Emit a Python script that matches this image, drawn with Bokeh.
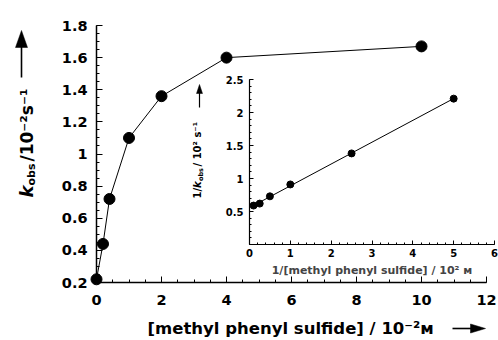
import numpy as np
from bokeh.plotting import figure
from bokeh.models import FixedTicker, NumeralTickFormatter
from bokeh.core.properties import value
from bokeh.embed import file_html
from bokeh.resources import INLINE

# ---------------- data ----------------
# main plot: k_obs vs [methyl phenyl sulfide]
conc = [0, 0.2, 0.4, 1, 2, 4, 10]                 # / 10^-2 M
kobs = [0.22, 0.44, 0.72, 1.10, 1.36, 1.60, 1.67]  # / 10^-2 s^-1
# inset: 1/k_obs vs 1/[methyl phenyl sulfide]
inv_conc = [0.1, 0.25, 0.5, 1, 2.5, 5]             # / 10^2 M^-1
inv_kobs = [0.59, 0.62, 0.73, 0.91, 1.38, 2.21]    # / 10^2 s

main_x_ticks = [0, 2, 4, 6, 8, 10, 12]
main_y_ticks = [0.2, 0.4, 0.6, 0.8, 1, 1.2, 1.4, 1.6, 1.8]
inset_x_ticks = [0, 1, 2, 3, 4, 5, 6]
inset_y_ticks = [0.5, 1, 1.5, 2, 2.5]

main_xlabel = "[methyl phenyl sulfide] / 10\u207b\u00b2\u1d0d"
inset_xlabel = "1/[methyl phenyl sulfide] / 10\u00b2 \u1d0d"

FONT = "DejaVu Sans"
ang = np.pi / 2

# ---------------- main figure ----------------
W, H = 498, 340
ML, MR, MT, MB = 96, 12, 25, 58
XR = (0, 12)
YR = (0.2, 1.8)
p = figure(width=W, height=H, x_range=XR, y_range=YR,
           output_backend="svg", toolbar_location=None,
           min_border_left=ML, min_border_right=MR,
           min_border_top=MT, min_border_bottom=MB)
p.outline_line_color = None
p.grid.visible = False
p.styles = {"position": "absolute", "left": "0px", "top": "0px"}

FW, FH = W - ML - MR, H - MT - MB


def mx(px):
    return XR[0] + (px - ML) / FW * (XR[1] - XR[0])


def my(py):
    return YR[1] - (py - MT) / FH * (YR[1] - YR[0])


def style_axis(ax, size, tick_in, minor_in, width, standoff):
    ax.axis_line_width = width
    ax.major_tick_in = tick_in
    ax.major_tick_out = 0
    ax.minor_tick_in = minor_in
    ax.minor_tick_out = 0
    ax.major_tick_line_width = 1
    ax.minor_tick_line_width = 1
    ax.major_label_text_font = FONT
    ax.major_label_text_font_style = "bold"
    ax.major_label_text_font_size = size
    ax.major_label_text_color = "black"
    ax.major_label_standoff = standoff
    ax.formatter = NumeralTickFormatter(format="0.[0]")


def draw_arrow(fig, cx, cy, x0, y0, x1, y1, head_len, head_w, lw):
    """Arrow from (x0,y0) to tip (x1,y1), given in canvas pixels."""
    dx, dy = x1 - x0, y1 - y0
    L = (dx * dx + dy * dy) ** 0.5
    ux, uy = dx / L, dy / L
    bx, by = x1 - ux * head_len, y1 - uy * head_len
    nx, ny = -uy, ux
    fig.line([cx(x0), cx(bx + ux)], [cy(y0), cy(by + uy)],
             line_color="black", line_width=lw, level="overlay")
    hx = [x1, bx + nx * head_w / 2, bx - nx * head_w / 2]
    hy = [y1, by + ny * head_w / 2, by - ny * head_w / 2]
    fig.patch([cx(v) for v in hx], [cy(v) for v in hy],
              fill_color="black", line_color="black", line_width=0.5,
              level="overlay")


def put_text(fig, x, y, txt, size, style="bold", angle=0.0):
    fig.text(x=[x], y=[y], text=[txt], angle=angle,
             text_font=value(FONT), text_font_style=style,
             text_font_size=value(size), text_color="black",
             text_align="left", text_baseline="middle", level="overlay")


p.xaxis.ticker = FixedTicker(ticks=main_x_ticks,
                             minor_ticks=list(np.arange(0, 12.001, 0.5)))
p.yaxis.ticker = FixedTicker(ticks=main_y_ticks,
                             minor_ticks=list(np.arange(0.2, 1.8001, 0.05)))
style_axis(p.xaxis[0], "14.5px", 6, 3, 1.5, 12)
style_axis(p.yaxis[0], "14.5px", 6, 3, 1.5, 9)

p.line(conc, kobs, line_color="black", line_width=1, level="overlay")
p.scatter(conc, kobs, size=11, fill_color="black", line_color="black",
          level="overlay")

# main y label: k_obs / 10^-2 s^-1 (rotated), positions in canvas pixels
put_text(p, mx(26), my(197), "k", "18px", "bold italic", ang)
put_text(p, mx(30.5), my(185), "obs", "11px", "bold", ang)
put_text(p, mx(26), my(161), "/10\u207b\u00b2s\u207b\u00b9", "17px", "bold", ang)
draw_arrow(p, mx, my, 21, 77, 21, 30, 17, 12, 1.6)

# main x label
put_text(p, mx(147), my(328), main_xlabel, "16.5px", "bold")
draw_arrow(p, mx, my, 452, 328, 485, 328, 15, 9, 1.6)

# ---------------- inset figure ----------------
IL, IT, IW, IH = 190, 70, 308, 210
IML, IMR, IMT, IMB = 59, 4, 9, 36
IXR = (0, 6)
IYR = (0, 2.5)
q = figure(width=IW, height=IH, x_range=IXR, y_range=IYR,
           output_backend="svg", toolbar_location=None,
           min_border_left=IML, min_border_right=IMR,
           min_border_top=IMT, min_border_bottom=IMB)
q.outline_line_color = None
q.grid.visible = False
q.background_fill_color = None
q.border_fill_color = None
q.styles = {"position": "absolute", "left": f"{IL}px", "top": f"{IT}px"}

IFW, IFH = IW - IML - IMR, IH - IMT - IMB


def qx(px):
    return IXR[0] + (px - IL - IML) / IFW * (IXR[1] - IXR[0])


def qy(py):
    return IYR[1] - (py - IT - IMT) / IFH * (IYR[1] - IYR[0])


q.xaxis.ticker = FixedTicker(ticks=inset_x_ticks,
                             minor_ticks=list(np.arange(0, 6.001, 0.2)))
q.yaxis.ticker = FixedTicker(ticks=inset_y_ticks,
                             minor_ticks=list(np.arange(0, 2.5001, 0.1)))
style_axis(q.xaxis[0], "10px", 4, 2, 1.2, 4)
style_axis(q.yaxis[0], "10px", 4, 2, 1.2, 6)

q.xaxis.axis_label = inset_xlabel
q.xaxis.axis_label_text_font = FONT
q.xaxis.axis_label_text_font_style = "bold"
q.xaxis.axis_label_text_font_size = "11px"
q.xaxis.axis_label_standoff = 4

# least-squares line through the inset points
slope, icpt = np.polyfit(inv_conc, inv_kobs, 1)
fx = [min(inv_conc), max(inv_conc)]
fy = [slope * v + icpt for v in fx]
q.line(fx, fy, line_color="black", line_width=1, level="overlay")
q.scatter(inv_conc, inv_kobs, size=7, fill_color="black", line_color="black",
          level="overlay")

# inset y label: 1/k_obs / 10^2 s^-1 (rotated)
put_text(q, qx(196.5), qy(198), "1/", "10px", "bold", ang)
put_text(q, qx(196.5), qy(187.5), "k", "10px", "bold italic", ang)
put_text(q, qx(200.5), qy(180.5), "obs", "6.5px", "bold", ang)
put_text(q, qx(196.5), qy(166), " / 10\u00b2 s\u207b\u00b9", "10px", "bold", ang)
draw_arrow(q, qx, qy, 199, 107, 199, 84, 9, 6, 1.2)

open("out.html", "w").write(file_html([p, q], INLINE))
